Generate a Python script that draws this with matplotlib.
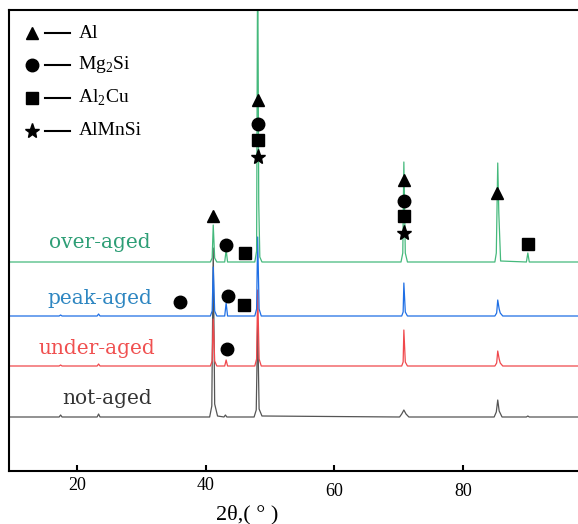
"""XRD patterns of the four ageing states."""

import matplotlib
import matplotlib.pyplot as plt

matplotlib.use("Agg")

plt.rcParams["font.family"] = ["Liberation Serif", "DejaVu Serif"]

# ---- data (2θ in degrees, intensity in a.u. above each trace's baseline) ----
not_aged_x = [10.0, 17.0, 17.2, 17.4, 22.3, 22.5, 22.7, 38.0, 38.3, 38.5, 38.7, 39.1,
              40.0, 40.2, 40.4, 44.2, 44.5, 44.7, 44.9, 45.3, 64.5, 64.8, 65.1, 65.4,
              65.8, 77.7, 78.0, 78.2, 78.4, 78.8, 82.2, 82.4, 82.6, 89.4]
not_aged_y = [1, 1, 3, 1, 1, 4, 1, 1, 12, 170, 14, 2,
              1, 3, 1, 1, 8, 95, 9, 2, 1, 4, 8, 4,
              1, 1, 6, 18, 7, 1, 1, 2, 1, 1]

under_aged_x = [10.0, 17.0, 17.2, 17.4, 22.3, 22.5, 22.7, 38.1, 38.35, 38.5, 38.7, 39.0,
                40.1, 40.3, 40.5, 44.3, 44.55, 44.7, 44.9, 45.2, 64.8, 65.0, 65.1, 65.3,
                65.6, 77.8, 78.05, 78.2, 78.4, 78.55, 78.9, 89.4]
under_aged_y = [1, 1, 2, 1, 1, 3, 1, 1, 6, 48, 6, 1,
                1, 7, 1, 1, 8, 77, 8, 1, 1, 5, 37, 5,
                1, 1, 4, 16, 8, 4, 1, 1]

peak_aged_x = [10.0, 17.0, 17.2, 17.4, 22.3, 22.5, 22.7, 38.1, 38.35, 38.5, 38.7, 39.0,
               40.1, 40.3, 40.5, 44.3, 44.55, 44.7, 44.9, 45.2, 64.8, 65.0, 65.1, 65.3,
               65.6, 77.8, 78.05, 78.2, 78.4, 78.55, 78.9, 89.4]
peak_aged_y = [1, 1, 2, 1, 1, 3, 1, 1, 6, 50, 6, 1,
               1, 14, 1, 1, 8, 80, 8, 1, 1, 5, 34, 5,
               1, 1, 4, 17, 8, 4, 1, 1]

over_aged_x = [10.0, 38.1, 38.35, 38.5, 38.7, 39.0, 40.1, 40.3, 40.5, 44.3, 44.55, 44.7,
               44.85, 45.0, 45.3, 64.7, 64.95, 65.1, 65.3, 65.6, 77.8, 78.0, 78.2, 78.35,
               78.6, 82.2, 82.4, 82.6, 89.4]
over_aged_y = [1, 1, 5, 38, 5, 1, 1, 13, 1, 1, 12, 320,
               60, 6, 1, 1, 10, 101, 10, 1, 1, 10, 100, 50,
               2, 1, 10, 1, 1]

samples = ["not-aged", "under-aged", "peak-aged", "over-aged"]
sample_colors = ["#555555", "#f0484c", "#1f6fe5", "#45b97c"]
label_colors = ["#333333", "#f05050", "#2e86c1", "#2e9e76"]
offsets = [53, 104, 154, 208]

# phase markers (2θ, position in a.u. on the stacked scale)
al_x = [38.5, 44.8, 65.1, 78.1]
al_y = [255, 371, 291, 278]
mg2si_x = [40.3, 44.8, 65.1, 33.9, 40.6, 40.4]
mg2si_y = [226, 347, 270, 169, 175, 122]
al2cu_x = [42.95, 44.8, 65.1, 82.4, 42.8]
al2cu_y = [218, 331, 255, 227, 166]
almnsi_x = [44.8, 65.1]
almnsi_y = [314, 238]

tick_vals = [20, 40, 60, 80]

# ---- figure ----
fig = plt.figure(figsize=(5.78, 5.24), dpi=100)
ax = fig.add_axes([9 / 578, 53 / 524, 1 - 9 / 578, 461 / 524])

traces = [(not_aged_x, not_aged_y), (under_aged_x, under_aged_y),
          (peak_aged_x, peak_aged_y), (over_aged_x, over_aged_y)]
for (xs, ys), off, col in zip(traces, offsets, sample_colors):
    ax.plot(xs, [v + off for v in ys], color=col, linewidth=0.9)

ms = dict(linestyle="none", color="black")
ax.plot(al_x, al_y, marker="^", markersize=9, **ms)
ax.plot(mg2si_x, mg2si_y, marker="o", markersize=9, **ms)
ax.plot(al2cu_x, al2cu_y, marker="s", markersize=8, **ms)
ax.plot(almnsi_x, almnsi_y, marker="*", markersize=11, **ms)

ax.set_xlim(10, 89.4)
ax.set_ylim(0, 461)
ax.set_xticks([])
ax.set_yticks([])
ax.spines["right"].set_visible(False)
for s in ("left", "top", "bottom"):
    ax.spines[s].set_linewidth(1.5)

# sample names
label_pos = [(107, 399), (97, 349), (100, 298), (100, 243)]
for name, col, (px, py) in zip(samples, label_colors, label_pos):
    ax.text((px - 9) / 569, (471 - py) / 461, name, transform=ax.transAxes,
            ha="center", va="center", color=col, fontsize=14.5, family="DejaVu Serif")

# hand-drawn key in the upper left
key = [("^", 9, "Al"), ("o", 9, "Mg$_\\mathregular{2}$Si"),
       ("s", 8, "Al$_\\mathregular{2}$Cu"), ("*", 11, "AlMnSi")]
key_y = [0.950, 0.881, 0.809, 0.738]
for (mk, size, txt), ky in zip(key, key_y):
    ax.plot([0.040], [ky], marker=mk, markersize=size, color="black",
            transform=ax.transAxes, linestyle="none")
    ax.plot([0.063, 0.107], [ky, ky], color="black", linewidth=1.5,
            transform=ax.transAxes)
    ax.text(0.122, ky, txt, transform=ax.transAxes, ha="left", va="center",
            fontsize=14)

# x tick labels live on their own scale (as in the original figure)
ax2 = ax.twiny()
ax2.set_xlim(9.43, 97.88)
ax2.xaxis.set_ticks_position("bottom")
ax2.set_xticks(tick_vals)
ax2.set_xticklabels([str(t) for t in tick_vals])
ax2.tick_params(axis="x", direction="in", length=4, width=1.5, labelsize=13, pad=4)
for s in ax2.spines.values():
    s.set_visible(False)
for t in ax2.xaxis.get_major_ticks()[2:]:
    t.set_pad(9)

fig.text(247 / 578, 1 - 515 / 524, "2θ,( ° )", ha="center", va="center", fontsize=16)

fig.savefig("out.png", dpi=100)
